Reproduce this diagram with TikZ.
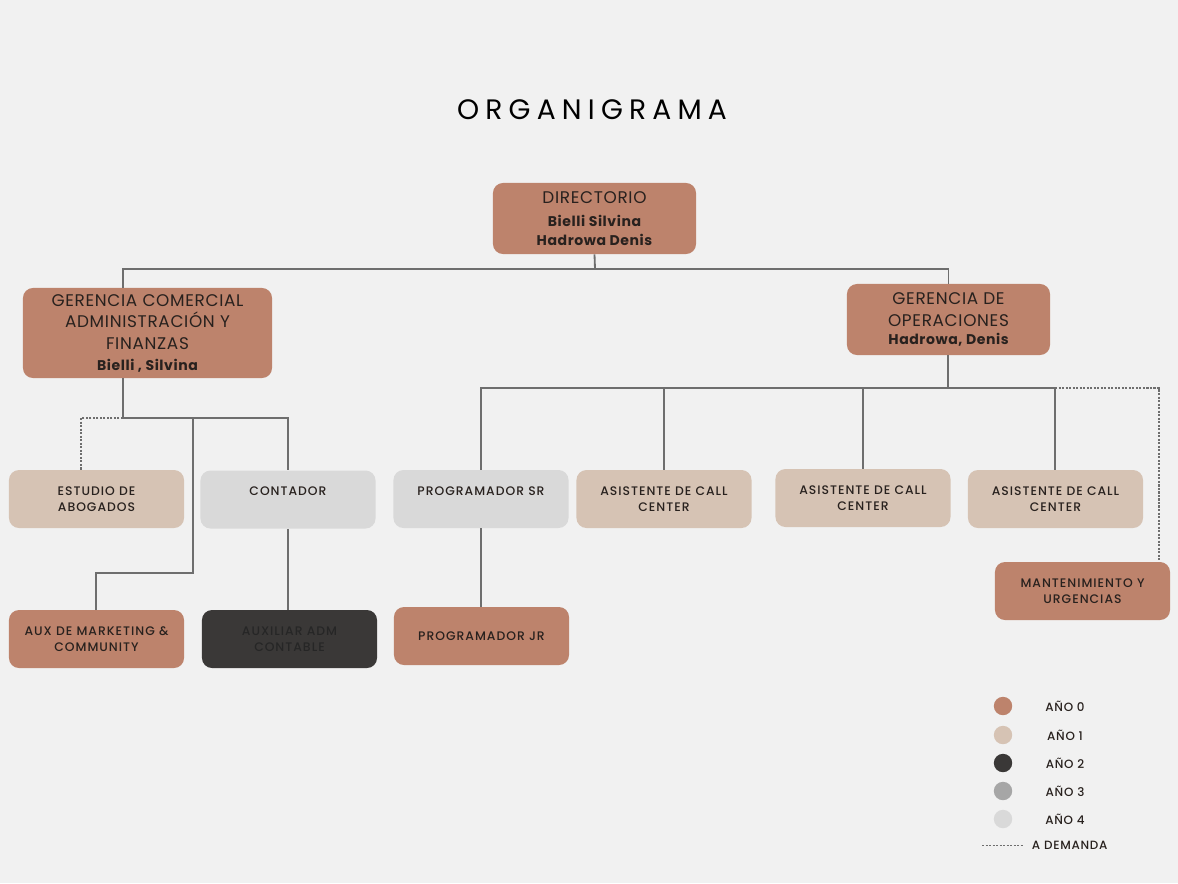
\documentclass[tikz,border=0pt]{standalone}
\usepackage{fontspec}
\setmainfont{Poppins}
\newfontfamily\medfont{Poppins}[UprightFont=*-Medium]
\usepackage{xcolor}
\definecolor{bgcol}{RGB}{241,241,241}
\definecolor{anio0}{RGB}{189,131,108}
\definecolor{anio1}{RGB}{214,195,180}
\definecolor{anio2}{RGB}{58,56,55}
\definecolor{anio3}{RGB}{166,166,166}
\definecolor{anio4}{RGB}{217,217,217}
\definecolor{linegray}{RGB}{110,110,110}
\definecolor{textdark}{RGB}{40,33,30}

\tikzset{
  box/.style={rounded corners=0.25cm, align=center, text=textdark, inner sep=2pt},
  bigbox/.style={box, fill=anio0, font=\fontsize{12}{15.5}\selectfont\addfontfeature{LetterSpace=4}},
  smallbox/.style={box, minimum width=4.375cm, minimum height=1.45cm,
    font=\medfont\fontsize{8.8}{11.3}\selectfont\addfontfeature{LetterSpace=8}},
  legtext/.style={font=\medfont\fontsize{8.5}{10}\selectfont\addfontfeature{LetterSpace=6}, text=textdark},
  conn/.style={linegray, line width=1.3pt},
  demand/.style={linegray, line width=0.9pt, dash pattern=on 1.5pt off 1pt}
}

\begin{document}
\begin{tikzpicture}[x=0.025cm, y=-0.025cm]

% Background
\fill[bgcol] (0,0) rectangle (1178,883);

% Title
\node[font=\fontsize{20}{24}\selectfont\addfontfeature{LetterSpace=22}, text=black] (title) at (592,110) {ORGANIGRAMA};

% Top level
\node[bigbox, minimum width=5.075cm, minimum height=1.775cm] (dir) at (594.5,218.5)
  {DIRECTORIO\\[1pt]{\fontsize{10}{13}\selectfont\bfseries Bielli Silvina}\\[-2pt]{\fontsize{10}{13}\selectfont\bfseries Hadrowa Denis}};

% Gerencias
\node[bigbox, minimum width=6.225cm, minimum height=2.25cm] (gcom) at (147.5,333)
  {GERENCIA COMERCIAL\\ADMINISTRACIÓN Y\\FINANZAS\\[-1pt]{\fontsize{10}{13}\selectfont\bfseries Bielli , Silvina}};
\node[bigbox, minimum width=5.075cm, minimum height=1.775cm] (gops) at (948.5,319.5)
  {GERENCIA DE\\OPERACIONES\\[-3pt]{\fontsize{10}{13}\selectfont\bfseries Hadrowa, Denis}};

% Second level
\node[smallbox, fill=anio1] (estudio) at (96.5,499) {ESTUDIO DE\\ABOGADOS};
\node[smallbox, fill=anio4] (contador) at (288,499.5) {CONTADOR\\\phantom{X}};
\node[smallbox, fill=anio4] (progsr) at (481,499) {PROGRAMADOR SR\\\phantom{X}};
\node[smallbox, fill=anio1] (asis1) at (664,499) {ASISTENTE DE CALL\\CENTER};
\node[smallbox, fill=anio1] (asis2) at (863,498) {ASISTENTE DE CALL\\CENTER};
\node[smallbox, fill=anio1] (asis3) at (1055.5,499) {ASISTENTE DE CALL\\CENTER};

% Third level
\node[smallbox, fill=anio0] (mant) at (1082.5,591) {MANTENIMIENTO Y\\URGENCIAS};
\node[smallbox, fill=anio0] (auxmkt) at (96.5,639) {AUX DE MARKETING \&\\COMMUNITY};
\node[smallbox, fill=anio2, text=black!85] (auxadm) at (289.5,639) {AUXILIAR ADM\\CONTABLE};
\node[smallbox, fill=anio0] (progjr) at (481.5,636) {PROGRAMADOR JR};

% Junctions
\coordinate (jdir) at (595,269);
\coordinate (jcom) at (123,418);
\coordinate (jops) at (948,388);
\coordinate (jmkt) at (193,418);
\coordinate (jdem) at (1055,388);

% Connectors: directorio
\draw[conn] (dir.south) -- (jdir);
\draw[conn] (gcom.north -| 123,0) |- (jdir) -| (gops.north);

% Connectors: gerencia comercial
\draw[conn] (gcom.south -| jcom) -- (jcom);
\draw[demand] (jcom) -| (estudio.north -| 81,0);
\draw[conn] (jcom) -| (contador.north);
\draw[conn] (jmkt) |- (96,573) -- (auxmkt.north -| 96,0);
\draw[conn] (contador.south) -- (auxadm.north -| contador.south);

% Connectors: gerencia de operaciones
\draw[conn] (gops.south -| jops) -- (jops);
\draw[conn] (progsr.north) |- (jdem);
\draw[conn] (asis1.north) -- (asis1.north |- jops);
\draw[conn] (asis2.north) -- (asis2.north |- jops);
\draw[conn] (asis3.north -| jdem) -- (jdem);
\draw[demand] (jdem) -| (mant.north -| 1159,0);
\draw[conn] (progsr.south) -- (progjr.north -| progsr.south);

% Legend
\foreach \y/\col/\lab in {
706/anio0/AÑO 0,
735/anio1/AÑO 1,
763/anio2/AÑO 2,
791/anio3/AÑO 3,
819/anio4/AÑO 4
}{
\fill[\col] (1003,\y) circle (0.23cm);
\node[legtext] (leg\y) at (1065,\y) {\lab};
}
\draw[demand, line width=0.6pt] (982,845) -- (1024,845);
\node[legtext, anchor=west] (dem) at (1027,845) {A DEMANDA};

\end{tikzpicture}
\end{document}
